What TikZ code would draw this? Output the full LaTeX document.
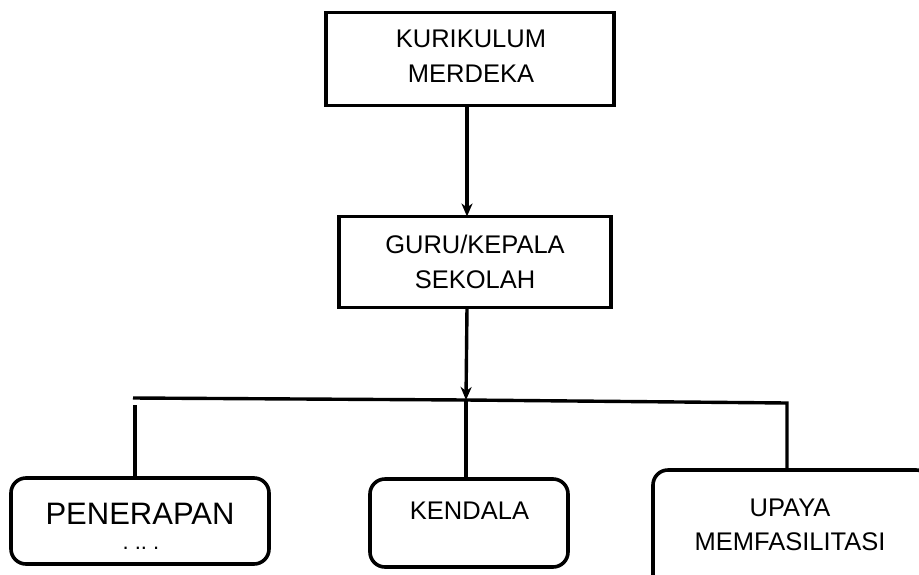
\documentclass[tikz,border=0pt]{standalone}
\usepackage{fontspec}
\setmainfont{Liberation Sans}
\usetikzlibrary{arrows.meta}
\tikzset{
  box/.style={draw=black, line width=3.6pt, inner sep=0pt, outer sep=0pt},
  rbox/.style={box, rounded corners=15pt},
  lbl/.style={inner sep=0pt, outer sep=0pt, align=center, text=black,
    font=\fontsize{25.5}{35}\selectfont},
  biglbl/.style={inner sep=0pt, outer sep=0pt, text=black,
    font=\fontsize{31}{36}\selectfont},
  conn/.style={line width=3.4pt, draw=black},
  arr/.style={conn, -{Stealth[length=13pt, width=11pt, inset=4pt]}}
}
\begin{document}
\begin{tikzpicture}[x=1pt, y=-1pt]
\clip (0,0) rectangle (919,574);
\fill[white] (0,0) rectangle (919,574);
% boxes
\node[box, minimum width=288pt, minimum height=93pt] (kur) at (470,59) {};
\node[box, minimum width=272pt, minimum height=91pt] (guru) at (475,262) {};
\node[rbox, minimum width=258pt, minimum height=86pt] (pen) at (140,521) {};
\node[rbox, minimum width=198pt, minimum height=88pt] (kend) at (469,523) {};
\node[rbox, minimum width=278pt, minimum height=124pt] (upaya) at (792,532) {};
% labels
\node[lbl] (kurt) at (471,56) {KURIKULUM\\MERDEKA};
\node[lbl] (gurut) at (475,261.5) {GURU/KEPALA\\SEKOLAH};
\node[biglbl] (pent) at (140,514) {PENERAPAN};
\node[inner sep=0pt, outer sep=0pt, text=black, font=\fontsize{22}{22}\selectfont,
  anchor=base] (pend) at (141,549) {.~..~.};
\node[lbl] (kendt) at (469.5,511) {KENDALA};
\node[lbl, font=\fontsize{25.5}{34}\selectfont] (upayat) at (790,524.5) {UPAYA\\MEMFASILITASI};
% connector coordinates
\coordinate (ax) at (467,0);
\coordinate (bl) at (133,398);
\coordinate (bm) at (466,400);
\coordinate (br) at (787,403);
\coordinate (vl) at (135,405);
% connectors
\draw[arr] (kur.south -| ax) -- (guru.north -| ax);
\draw[arr] (guru.south -| ax) -- (bm);
\draw[conn] (bl) -- (bm) -- (br) -- (upaya.north -| br);
\draw[conn] (vl) -- (pen.north -| vl);
\draw[conn] (bm) -- (kend.north -| bm);
\end{tikzpicture}
\end{document}
